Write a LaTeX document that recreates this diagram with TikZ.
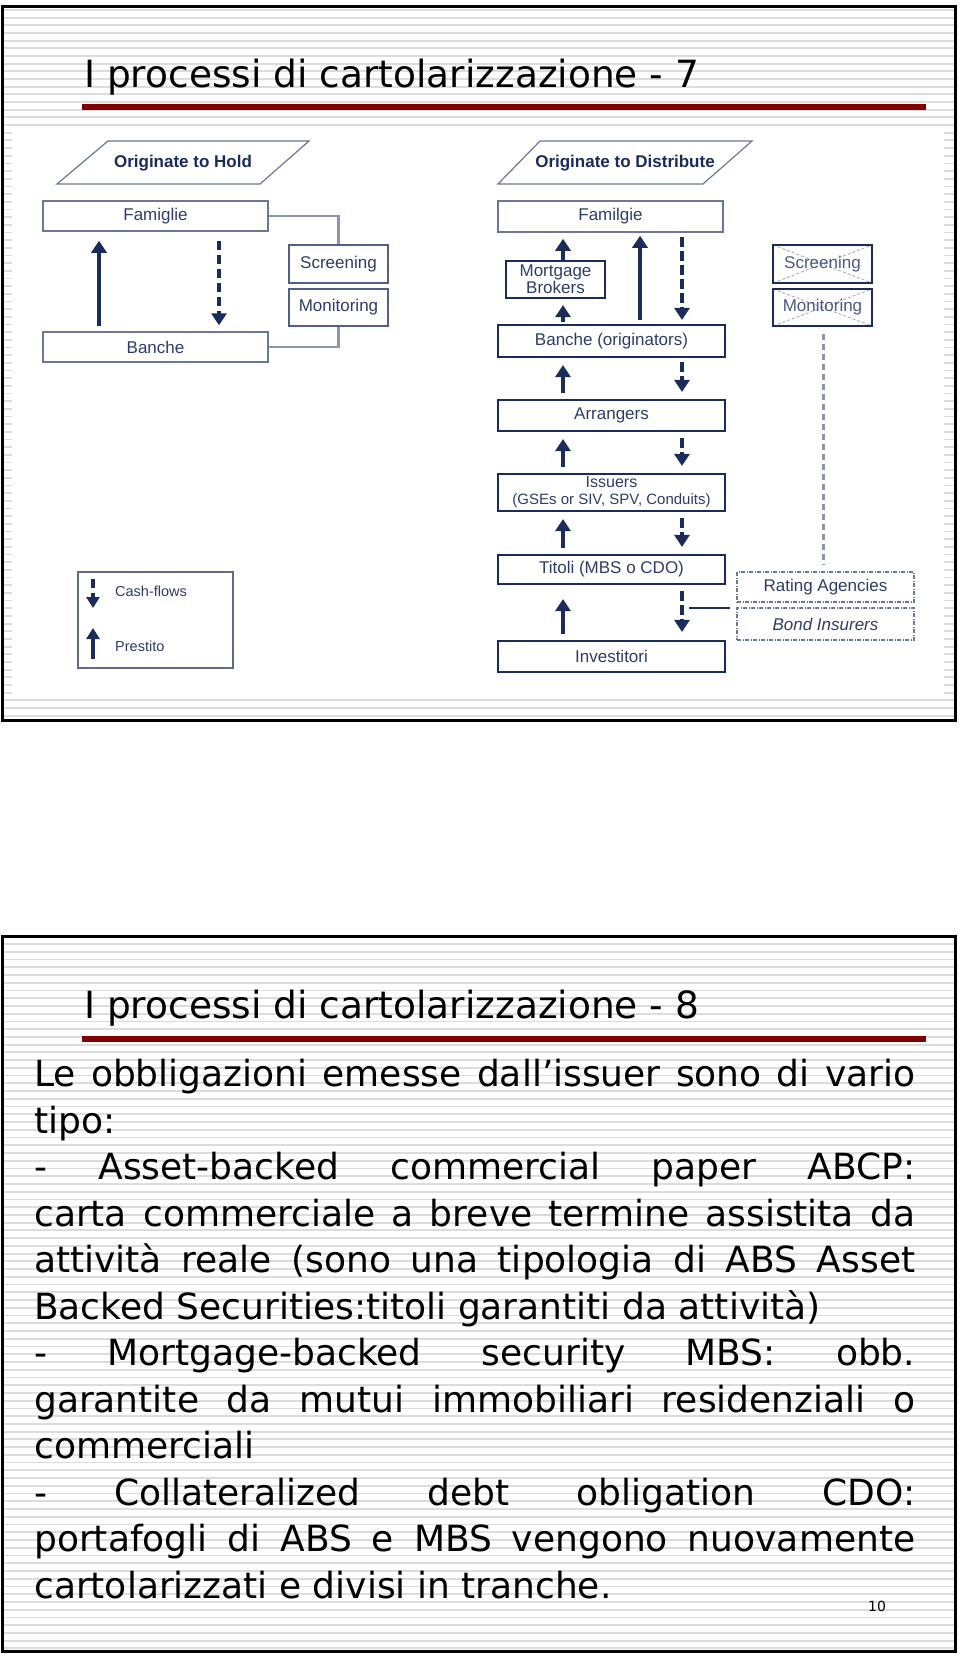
\documentclass[tikz,border=0pt]{standalone}
\usepackage{fontspec}
\setmainfont{Liberation Sans}
\newfontfamily\vfont{DejaVu Sans}
\usetikzlibrary{arrows.meta,calc}
\definecolor{navy}{HTML}{1A2B5C}
\definecolor{boxline}{HTML}{6A7898}
\definecolor{txtblue}{HTML}{2E3D68}
\definecolor{stripegray}{HTML}{DCDCDC}
\definecolor{titlered}{HTML}{800000}
\definecolor{connline}{HTML}{8A96B0}
\definecolor{crossline}{HTML}{A0A8BA}
\newcommand{\dfont}{\fontsize{17}{17}\selectfont}
\tikzset{
  bxthin/.style={draw=boxline, line width=1.5pt, rectangle, inner sep=0pt, text=txtblue, font=\dfont, align=center},
  bxnavy/.style={bxthin, draw=navy, line width=2.2pt},
  crossed/.style={path picture={\draw[crossline, line width=0.8pt, dash pattern=on 3pt off 2pt]
      (path picture bounding box.north west) -- (path picture bounding box.south east)
      (path picture bounding box.south west) -- (path picture bounding box.north east);}},
  uparr/.style={draw=navy, line width=4pt, -{Triangle[width=15pt,length=12pt]}, shorten <=6pt, shorten >=7pt},
  dnarr/.style={uparr, dash pattern=on 10pt off 4pt},
  connl/.style={draw=connline, line width=2.5pt},
  bodyl/.style={anchor=base west, inner sep=0pt, font=\vfont\fontsize{36}{46}\selectfont},
  ttlf/.style={anchor=base west, inner sep=0pt, font=\vfont\fontsize{37.5}{44}\selectfont},
  plabel/.style={inner sep=0pt, text=navy, font=\bfseries\dfont},
  legt/.style={anchor=west, inner sep=0pt, text=txtblue, font=\fontsize{14.5}{16}\selectfont},
  dotbox/.style={bxthin, dash pattern=on 4pt off 1.5pt on 1pt off 1.5pt},
  para/.style={draw=boxline, line width=1.2pt},
}
\begin{document}
\begin{tikzpicture}[x=1pt,y=-1pt]
\useasboundingbox (0,0) rectangle (960,1654);
\fill[white] (0,0) rectangle (960,1654);
% ---------- slide 1 background ----------
\foreach \k in {0,...,92} {\draw[stripegray, line width=1.8pt] (4,{10+7.67*\k}) -- (954,{10+7.67*\k});}
\fill[white] (12,127) rectangle (944,697);
\draw[line width=3pt] (2.5,6.5) rectangle (955.5,720.5);
% ---------- slide 2 background ----------
\foreach \k in {0,...,91} {\draw[stripegray, line width=1.8pt] (4,{944+7.74*\k}) -- (954,{944+7.74*\k});}
\draw[line width=3pt] (2.5,936.5) rectangle (955.5,1651.5);

% ---------- slide 1 ----------
\node[ttlf] (t1) at (84,88) {I processi di cartolarizzazione - 7};
\draw[titlered, line width=6pt] (82,106.5) -- (926,106.5);

% parallelograms
\draw[para] (108,141) -- (309,141) -- (260,184) -- (57,184) -- cycle;
\node[plabel] (oth) at (183,163) {Originate to Hold};
\draw[para] (540,141) -- (752,141) -- (703,184) -- (498,184) -- cycle;
\node[plabel] (otd) at (625,163) {Originate to Distribute};

% left diagram
\node[bxthin, minimum width=225pt, minimum height=30pt] (fam1) at (155.5,216) {Famiglie};
\node[bxthin, minimum width=225pt, minimum height=30pt] (ban1) at (155.5,347) {Banche};
\node[bxnavy, draw=navy!75, minimum width=99pt, minimum height=38pt] (scr1) at (338.5,264) {Screening};
\node[bxnavy, draw=navy!75, minimum width=99pt, minimum height=37pt] (mon1) at (338.5,307.5) {Monitoring};
\draw[connl] (fam1.east) -| (scr1.north);
\draw[connl] (mon1.south) |- (ban1.east);
\coordinate (lc1) at (99,0);
\coordinate (lc2) at (219,0);
\draw[uparr, shorten <=5pt, shorten >=9pt] (ban1.north -| lc1) -- (fam1.south -| lc1);
\draw[dnarr, dash pattern=on 9pt off 5pt, shorten <=9pt, shorten >=6pt] (fam1.south -| lc2) -- (ban1.north -| lc2);

% right diagram
\node[bxthin, minimum width=225pt, minimum height=31pt] (fam2) at (610.5,216.5) {Familgie};
\node[bxnavy, minimum width=99pt, minimum height=37pt] (mb) at (555.5,279.5) {Mortgage\\Brokers};
\node[bxnavy, minimum width=227pt, minimum height=32pt] (ban2) at (611.5,341) {Banche (originators)};
\node[bxnavy, minimum width=227pt, minimum height=31pt] (arr) at (611.5,415.5) {Arrangers};
\node[bxnavy, minimum width=227pt, minimum height=37pt, font=\fontsize{15}{17}\selectfont] (iss) at (611.5,492.5) {\fontsize{16}{17}\selectfont Issuers\\(GSEs or SIV, SPV, Conduits)};
\node[bxnavy, minimum width=227pt, minimum height=29pt] (tit) at (611.5,569.5) {Titoli (MBS o CDO)};
\node[bxnavy, minimum width=227pt, minimum height=31pt] (inv) at (611.5,656.5) {Investitori};
\node[bxnavy, crossed, minimum width=99pt, minimum height=38pt, text=txtblue!85] (scr2) at (822.5,264) {Screening};
\node[bxnavy, crossed, minimum width=99pt, minimum height=37pt, text=txtblue!85] (mon2) at (822.5,307.5) {Monitoring};
\node[dotbox, minimum width=177pt, minimum height=30pt] (rat) at (825.5,587) {Rating Agencies};
\node[dotbox, minimum width=177pt, minimum height=32pt] (bond) at (825.5,624) {\itshape Bond Insurers};

\coordinate (rc1) at (563,0);
\coordinate (rc2) at (640,0);
\coordinate (rc3) at (682,0);
\coordinate (rc4) at (823,0);
% Familgie <-> Banche (originators)
\draw[uparr, shorten <=0pt, shorten >=6pt] (mb.north -| rc1) -- (fam2.south -| rc1);
\draw[uparr, shorten <=2pt, shorten >=6pt] (ban2.north -| rc1) -- (mb.south -| rc1);
\draw[uparr, shorten <=4pt, shorten >=3pt] (ban2.north -| rc2) -- (fam2.south -| rc2);
\draw[dnarr, shorten <=4pt, shorten >=4pt] (fam2.south -| rc3) -- (ban2.north -| rc3);
% Banche <-> Arrangers
\draw[uparr] (arr.north -| rc1) -- (ban2.south -| rc1);
\draw[dnarr, shorten <=4pt] (ban2.south -| rc3) -- (arr.north -| rc3);
% Arrangers <-> Issuers
\draw[uparr] (iss.north -| rc1) -- (arr.south -| rc1);
\draw[dnarr] (arr.south -| rc3) -- (iss.north -| rc3);
% Issuers <-> Titoli
\draw[uparr] (tit.north -| rc1) -- (iss.south -| rc1);
\draw[dnarr] (iss.south -| rc3) -- (tit.north -| rc3);
% Titoli <-> Investitori
\draw[uparr, shorten >=14pt] (inv.north -| rc1) -- (tit.south -| rc1);
\draw[dnarr, shorten >=8pt] (tit.south -| rc3) -- (inv.north -| rc3);
% rating / bond junction
\coordinate (jn) at ($(rat.south west)!0.5!(bond.north west)$);
\draw[navy, line width=1.5pt] ($(jn)+(-6,3)$) -- ($(jn -| rc3)+(7,3)$);
% dashed line from monitoring to rating
\draw[draw=connline, line width=3pt, dash pattern=on 6pt off 4pt, shorten <=7pt, shorten >=7pt] (mon2.south -| rc4) -- (rat.north -| rc4);

% legend
\node[bxnavy, draw=navy!70, line width=1.8pt, minimum width=155pt, minimum height=96pt] (leg) at (155.5,620) {};
\coordinate (lga1) at (93,579);
\coordinate (lga2) at (93,608);
\coordinate (lgb1) at (93,659);
\coordinate (lgb2) at (93,628);
\draw[dnarr, line width=3.5pt, -{Triangle[width=13pt,length=11pt]}, dash pattern=on 9pt off 5pt, shorten <=0pt, shorten >=0pt] (lga1) -- (lga2);
\draw[uparr, line width=3.5pt, -{Triangle[width=13pt,length=11pt]}, shorten <=0pt, shorten >=0pt] (lgb1) -- (lgb2);
\node[legt] (cf) at (115,591) {Cash-flows};
\node[legt] (pr) at (115,646) {Prestito};

% ---------- slide 2 ----------
\node[ttlf] (t2) at (84,1018) {I processi di cartolarizzazione - 8};
\draw[titlered, line width=6pt] (82,1038.5) -- (926,1038.5);
\node[bodyl] (b1) at (34,1086.6) {\makebox[881pt][s]{Le obbligazioni emesse dall’issuer sono di vario}};
\node[bodyl] (b2) at (34,1133.1) {tipo:};
\node[bodyl] (b3) at (34,1179.6) {\makebox[881pt][s]{- Asset-backed commercial paper ABCP:}};
\node[bodyl] (b4) at (34,1226.1) {\makebox[881pt][s]{carta commerciale a breve termine assistita da}};
\node[bodyl] (b5) at (34,1272.6) {\makebox[881pt][s]{attività reale (sono una tipologia di ABS Asset}};
\node[bodyl] (b6) at (34,1319.1) {Backed Securities:titoli garantiti da attività)};
\node[bodyl] (b7) at (34,1365.6) {\makebox[881pt][s]{- Mortgage-backed security MBS: obb.}};
\node[bodyl] (b8) at (34,1412.1) {\makebox[881pt][s]{garantite da mutui immobiliari residenziali o}};
\node[bodyl] (b9) at (34,1458.6) {commerciali};
\node[bodyl] (b10) at (34,1505.1) {\makebox[881pt][s]{- Collateralized debt obligation CDO:}};
\node[bodyl] (b11) at (34,1551.6) {\makebox[881pt][s]{portafogli di ABS e MBS vengono nuovamente}};
\node[bodyl] (b12) at (34,1598.1) {cartolarizzati e divisi in tranche.};
\node[anchor=base west, inner sep=0pt, font=\vfont\fontsize{14}{16}\selectfont] (pg) at (868,1611) {10};
\end{tikzpicture}
\end{document}
